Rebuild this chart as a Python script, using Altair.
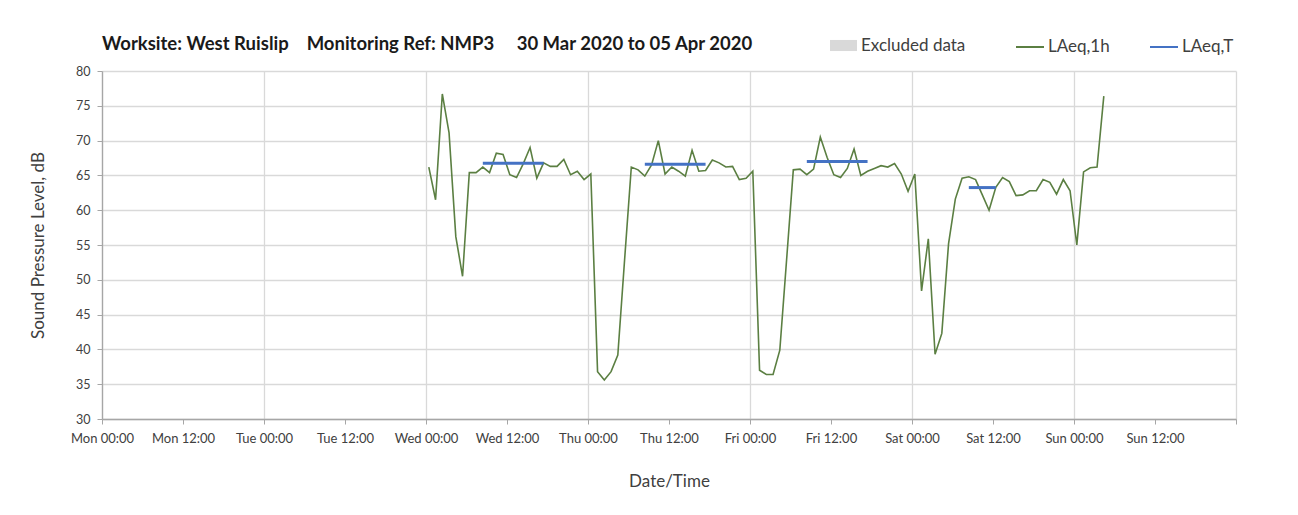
import altair as alt
import pandas as pd

# ---------------- data ----------------
# Hourly LAeq,1h values (dB), one point per hour starting Wed 01 Apr 2020 00:25
wed_laeq = [66.2, 61.5, 76.7, 71.1, 56.2, 50.5, 65.4, 65.4, 66.2, 65.4, 68.2, 68.0,
            65.1, 64.7, 66.7, 69.0, 64.6, 66.8, 66.3, 66.3, 67.3, 65.1, 65.6, 64.4]
thu_laeq = [65.2, 36.8, 35.6, 36.8, 39.2, 52.8, 66.2, 65.8, 64.9, 66.5, 70.0, 65.2,
            66.2, 65.6, 64.9, 68.6, 65.6, 65.7, 67.2, 66.8, 66.2, 66.3, 64.4, 64.6]
fri_laeq = [65.6, 37.0, 36.4, 36.4, 39.9, 52.8, 65.8, 65.9, 65.1, 65.9, 70.5, 67.6,
            65.1, 64.7, 66.0, 68.8, 65.0, 65.6, 66.0, 66.4, 66.2, 66.7, 65.2, 62.7]
sat_laeq = [65.2, 48.4, 55.9, 39.3, 42.3, 55.2, 61.6, 64.6, 64.8, 64.4, 62.2, 60.0,
            63.3, 64.7, 64.1, 62.1, 62.2, 62.8, 62.8, 64.4, 64.0, 62.3, 64.4, 62.8]
sun_laeq = [55.0, 65.5, 66.1, 66.2, 76.4]
first_time = "2020-04-01 00:25"

# LAeq,T (working period averages)
period_start = ["2020-04-01T08:25:00", "2020-04-02T08:25:00",
                "2020-04-03T08:25:00", "2020-04-04T08:25:00"]
period_end = ["2020-04-01T17:25:00", "2020-04-02T17:25:00",
              "2020-04-03T17:25:00", "2020-04-04T12:25:00"]
period_value = [66.75, 66.6, 67.0, 63.25]

# Excluded data periods (none in this week)
excluded_start = []
excluded_end = []

series_names = ["LAeq,1h", "LAeq,T"]
y_ticks = [30, 35, 40, 45, 50, 55, 60, 65, 70, 75, 80]

# ---------------- tables ----------------
laeq_1h = wed_laeq + thu_laeq + fri_laeq + sat_laeq + sun_laeq
times = pd.date_range(first_time, periods=len(laeq_1h), freq="h")
df_line = pd.DataFrame({
    "time": times.strftime("%Y-%m-%dT%H:%M:%S"),
    "value": laeq_1h,
    "series": "LAeq,1h",
})
df_T = pd.DataFrame({
    "start": period_start,
    "end": period_end,
    "value": period_value,
    "series": "LAeq,T",
})
df_ex = pd.DataFrame({
    "start": pd.Series(excluded_start, dtype="object"),
    "end": pd.Series(excluded_end, dtype="object"),
    "label": pd.Series([], dtype="object"),
})

# ---------------- styling ----------------
FONT = "Lato"
GREEN = "#5B7F42"
BLUE = "#4472C4"
GRID = "#D9D9D9"
AXIS = "#A6A6A6"
TXT = "#404040"
NB = "\u00a0"

x_tick_values = []
for d in range(30, 38):
    month, day = (3, d) if d <= 31 else (4, d - 31)
    x_tick_values.append(alt.DateTime(year=2020, month=month, date=day, hours=0))
    if d < 37:
        x_tick_values.append(alt.DateTime(year=2020, month=month, date=day, hours=12))

x_scale = alt.Scale(
    domain=[alt.DateTime(year=2020, month=3, date=30, hours=0),
            alt.DateTime(year=2020, month=4, date=6, hours=0)],
    nice=False,
)
y_scale = alt.Scale(domain=[30, 80], nice=False)

x_axis = alt.Axis(
    values=x_tick_values,
    labelExpr="(date(datum.value) == 6 && month(datum.value) == 3) ? '' : timeFormat(datum.value, '%a %H:%M')",
    labelOverlap=False,
    labelFlush=False,
    grid=True,
    gridColor={"condition": {"test": "hours(datum.value) == 0", "value": GRID},
               "value": "transparent"},
    gridWidth=1.3,
    domainColor=AXIS,
    domainWidth=1.3,
    tickColor=AXIS,
    tickSize=5,
    labelFont=FONT,
    labelFontSize=13,
    labelColor=TXT,
    labelPadding=8,
    labelAngle=0,
    title="Date/Time",
    titleFont=FONT,
    titleFontSize=17,
    titleFontWeight="normal",
    titleColor=TXT,
    titlePadding=28,
)
y_axis = alt.Axis(
    values=y_ticks,
    grid=True,
    gridColor=GRID,
    gridWidth=1.3,
    domainColor=AXIS,
    domainWidth=1.3,
    tickColor=AXIS,
    tickSize=5,
    labelFont=FONT,
    labelFontSize=12.5,
    labelColor=TXT,
    labelPadding=7,
    title="Sound Pressure Level, dB",
    titleFont=FONT,
    titleFontSize=17,
    titleFontWeight="normal",
    titleColor=TXT,
    titlePadding=28,
)

stroke_legend = alt.Legend(
    orient="none", legendX=913, legendY=-39, direction="horizontal",
    title=None, symbolType="stroke", symbolSize=784, symbolStrokeWidth=2,
    labelFont=FONT, labelFontSize=17, labelColor=TXT, labelOffset=3,
    columnPadding=36, padding=0,
)
fill_legend = alt.Legend(
    orient="none", legendX=728, legendY=-39, title=None,
    symbolType="M-1,-0.41L1,-0.41L1,0.41L-1,0.41Z", symbolSize=729,
    symbolStrokeWidth=0, symbolOpacity=1,
    labelFont=FONT, labelFontSize=17, labelColor=TXT, labelOffset=4, padding=0,
)

color_scale = alt.Scale(domain=series_names, range=[GREEN, BLUE])

excluded = alt.Chart(df_ex).mark_rect(opacity=1).encode(
    x=alt.X("start:T", scale=x_scale, axis=x_axis),
    x2="end:T",
    fill=alt.Fill("label:N",
                  scale=alt.Scale(domain=["Excluded data"], range=["#D9D9D9"]),
                  legend=fill_legend),
)

line = alt.Chart(df_line).mark_line(strokeWidth=1.6).encode(
    x=alt.X("time:T", scale=x_scale, axis=x_axis),
    y=alt.Y("value:Q", scale=y_scale, axis=y_axis),
    color=alt.Color("series:N", scale=color_scale, legend=stroke_legend),
)

rule = alt.Chart(df_T).mark_rule(strokeWidth=3).encode(
    x=alt.X("start:T", scale=x_scale, axis=x_axis),
    x2="end:T",
    y=alt.Y("value:Q", scale=y_scale, axis=y_axis),
    color=alt.Color("series:N", scale=color_scale, legend=stroke_legend),
)

title_text = ("Worksite: West Ruislip" + NB * 4 + "Monitoring Ref: NMP3" + NB * 5
              + "30 Mar 2020 to 05 Apr 2020")

chart = alt.layer(excluded, line, rule).properties(
    width=1134,
    height=348,
    title=alt.TitleParams(
        text=title_text,
        anchor="start", frame="group", font=FONT, fontSize=18.5, fontWeight="bold",
        color="#1A1A1A", offset=16, dx=0, dy=37,
    ),
    autosize=alt.AutoSizeParams(type="none"),
    padding={"left": 94, "top": 63, "right": 54, "bottom": 90},
    background="white",
).configure_view(strokeOpacity=0)

chart.save("out.html", embed_options={"renderer": "svg", "actions": False})
